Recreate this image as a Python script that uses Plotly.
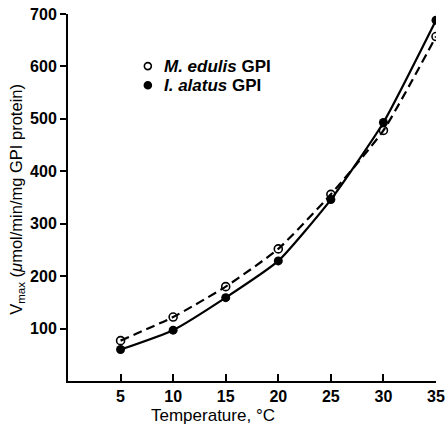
import plotly.graph_objects as go

temperature = [5, 10, 15, 20, 25, 30, 35]
m_edulis = [77, 122, 180, 252, 356, 478, 657]
i_alatus = [60, 97, 159, 229, 346, 493, 688]
x_ticks = [5, 10, 15, 20, 25, 30, 35]
y_ticks = [100, 200, 300, 400, 500, 600, 700]
legend_labels = ["<b><i>M. edulis</i> GPI</b>", "<b><i>I. alatus</i> GPI</b>"]

FONT = "Liberation Sans, Arial, sans-serif"

fig = go.Figure()
fig.add_trace(go.Scatter(
    x=temperature, y=m_edulis, mode="lines+markers",
    line=dict(color="black", width=2.2, dash="9px,5px", shape="spline", smoothing=0.5),
    marker=dict(symbol="circle-open", size=8, color="black", line=dict(width=1.6)),
    showlegend=False))
fig.add_trace(go.Scatter(
    x=temperature, y=i_alatus, mode="lines+markers",
    line=dict(color="black", width=2.2, shape="spline", smoothing=0.5),
    marker=dict(symbol="circle", size=9, color="black"),
    showlegend=False))

# manual legend (paper coordinates)
leg_x_sym = 0.217
leg_x_txt = 0.255
leg_y = [0.858, 0.806]
for i, (lbl, yy) in enumerate(zip(legend_labels, leg_y)):
    fig.add_shape(type="circle", xref="paper", yref="paper",
                  xsizemode="pixel", ysizemode="pixel",
                  xanchor=leg_x_sym, yanchor=yy,
                  x0=-3.5, x1=3.5, y0=-3.5, y1=3.5,
                  line=dict(color="black", width=1.6),
                  fillcolor="white" if i == 0 else "black")
    fig.add_annotation(x=leg_x_txt, y=yy, xref="paper", yref="paper",
                       text=lbl, showarrow=False, xanchor="left", yanchor="middle",
                       font=dict(size=17, family=FONT, color="black"))

# axis titles as annotations for precise placement
fig.add_annotation(x=-0.139, y=0.496, xref="paper", yref="paper",
                   text="V<sub>max</sub> (<i>μ</i>mol/min/mg GPI protein)",
                   textangle=-90, showarrow=False, xanchor="center", yanchor="middle",
                   font=dict(size=16.5, family=FONT, color="black"))
fig.add_annotation(x=0.394, y=-0.093, xref="paper", yref="paper",
                   text="Temperature, °C",
                   showarrow=False, xanchor="center", yanchor="middle",
                   font=dict(size=17, family=FONT, color="black"))

fig.update_layout(
    width=447, height=428,
    margin=dict(l=68, r=11, t=14, b=47),
    paper_bgcolor="white", plot_bgcolor="white",
    font=dict(family=FONT, color="black", size=14),
    showlegend=False,
)
fig.update_xaxes(
    range=[0, 35], tickvals=x_ticks, ticks="inside", ticklen=7, tickwidth=2,
    tickcolor="black", showline=True, linecolor="black", linewidth=2,
    showgrid=False, zeroline=False, automargin=False,
    tickfont=dict(size=16, family=FONT, weight="bold"), ticklabelstandoff=0,
)
fig.update_yaxes(
    range=[0, 700], tickvals=y_ticks, ticks="outside", ticklen=6, tickwidth=2,
    tickcolor="black", showline=True, linecolor="black", linewidth=2,
    showgrid=False, zeroline=False, automargin=False,
    tickfont=dict(size=16, family=FONT, weight="bold"),
)

fig.write_html("out.html")
